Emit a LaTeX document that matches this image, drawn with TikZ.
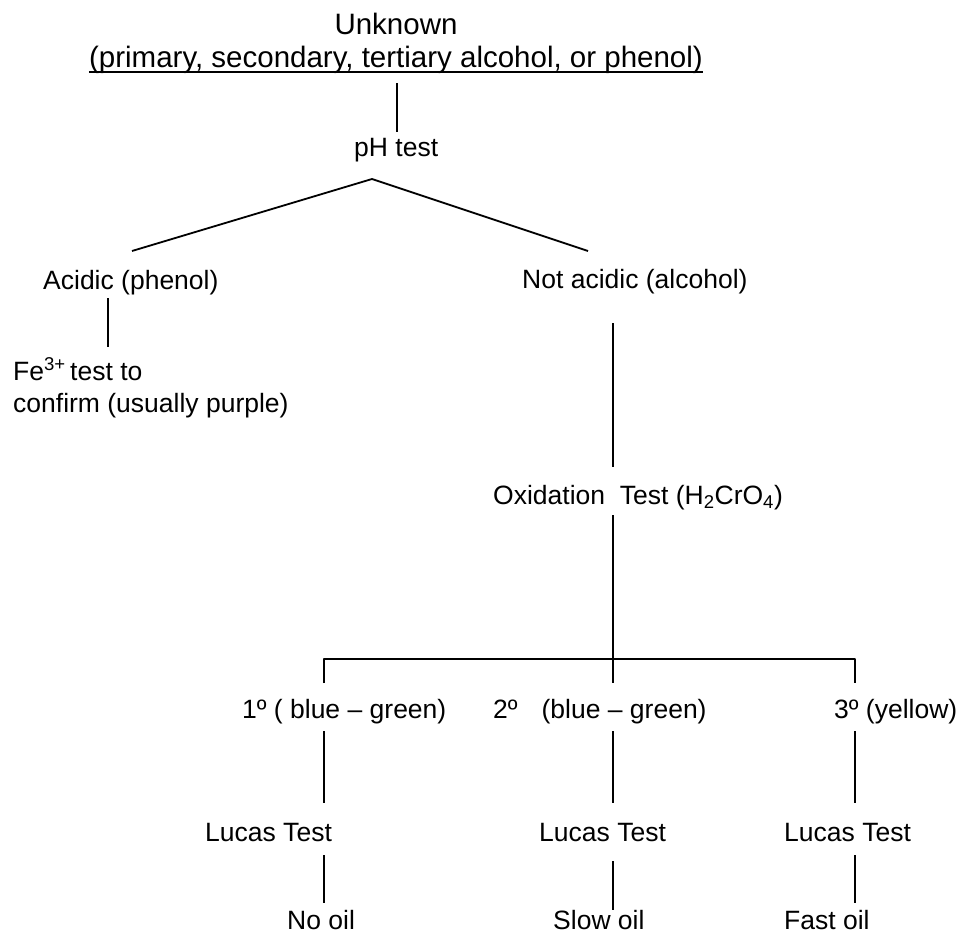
\documentclass[tikz,border=0pt]{standalone}
\usepackage{fontspec}
\setmainfont{Liberation Sans}
\begin{document}
\begin{tikzpicture}[x=1pt, y=-1pt, line join=round,
    font=\fontsize{26.5}{32}\selectfont,
    txt/.style={inner sep=0pt, anchor=base west},
    ttl/.style={inner sep=0pt, anchor=base, font=\fontsize{29.5}{35}\selectfont},
    ln/.style={line width=1.8pt}]
  \useasboundingbox (0,0) rectangle (957,937);
  % title
  \node[ttl] (unknown) at (396,34) {Unknown};
  \node[ttl] (classes) at (396,67) {(primary, secondary, tertiary alcohol, or phenol)};
  \draw[line width=2.6pt] ([yshift=-5pt]classes.base west) -- ([yshift=-5pt]classes.base east);
  
  % pH test and its two branches
  \node[txt] (phtest) at (354,156) {pH test};
  \node[txt] (acidic) at (43,289) {Acidic (phenol)};
  \node[txt] (notacid) at (522,288) {Not acidic (alcohol)};
  \node[txt] (fetest) at (13,380) {Fe\textsuperscript{3+}\,test to};
  \node[txt] (fetestb) at (13,412) {confirm (usually purple)};
  
  % oxidation test
  \node[txt] (oxid) at (493,504) {Oxidation\ \ Test (H\textsubscript{2}CrO\textsubscript{4})};
  \node[txt] (prim) at (242,718) {1º ( blue – green)};
  \node[txt] (sec) at (493,718) {2º\hspace{24pt}(blue – green)};
  \node[txt] (tert) at (834,718) {3º (yellow)};
  
  % Lucas test
  \foreach \n/\x in {lucasA/205, lucasB/539, lucasC/784}
    \node[txt] (\n) at (\x,841) {Lucas Test};
  \node[txt] (nooil) at (287,929) {No oil};
  \node[txt] (slowoil) at (553,929) {Slow oil};
  \node[txt] (fastoil) at (784,929) {Fast oil};
  
  % connectors
  \coordinate (apex) at (372,179);
  \coordinate (brL) at (324,659);
  \coordinate (brR) at (855,659);
  \draw[ln] (132,251) -- (apex) -- (588,251);
  \draw[ln] (brL |- 0,683) -- (brL) -- (brR) -- (brR |- 0,683);
  \foreach \x/\ya/\yb in {397/83/132, 108/298/347, 613/323/467, 613/515/683,
      324/731/803, 613/731/803, 855/731/803, 324/855/903, 613/861/910, 855/855/903}
    \draw[ln] (\x,\ya) -- (\x,\yb);
\end{tikzpicture}
\end{document}
